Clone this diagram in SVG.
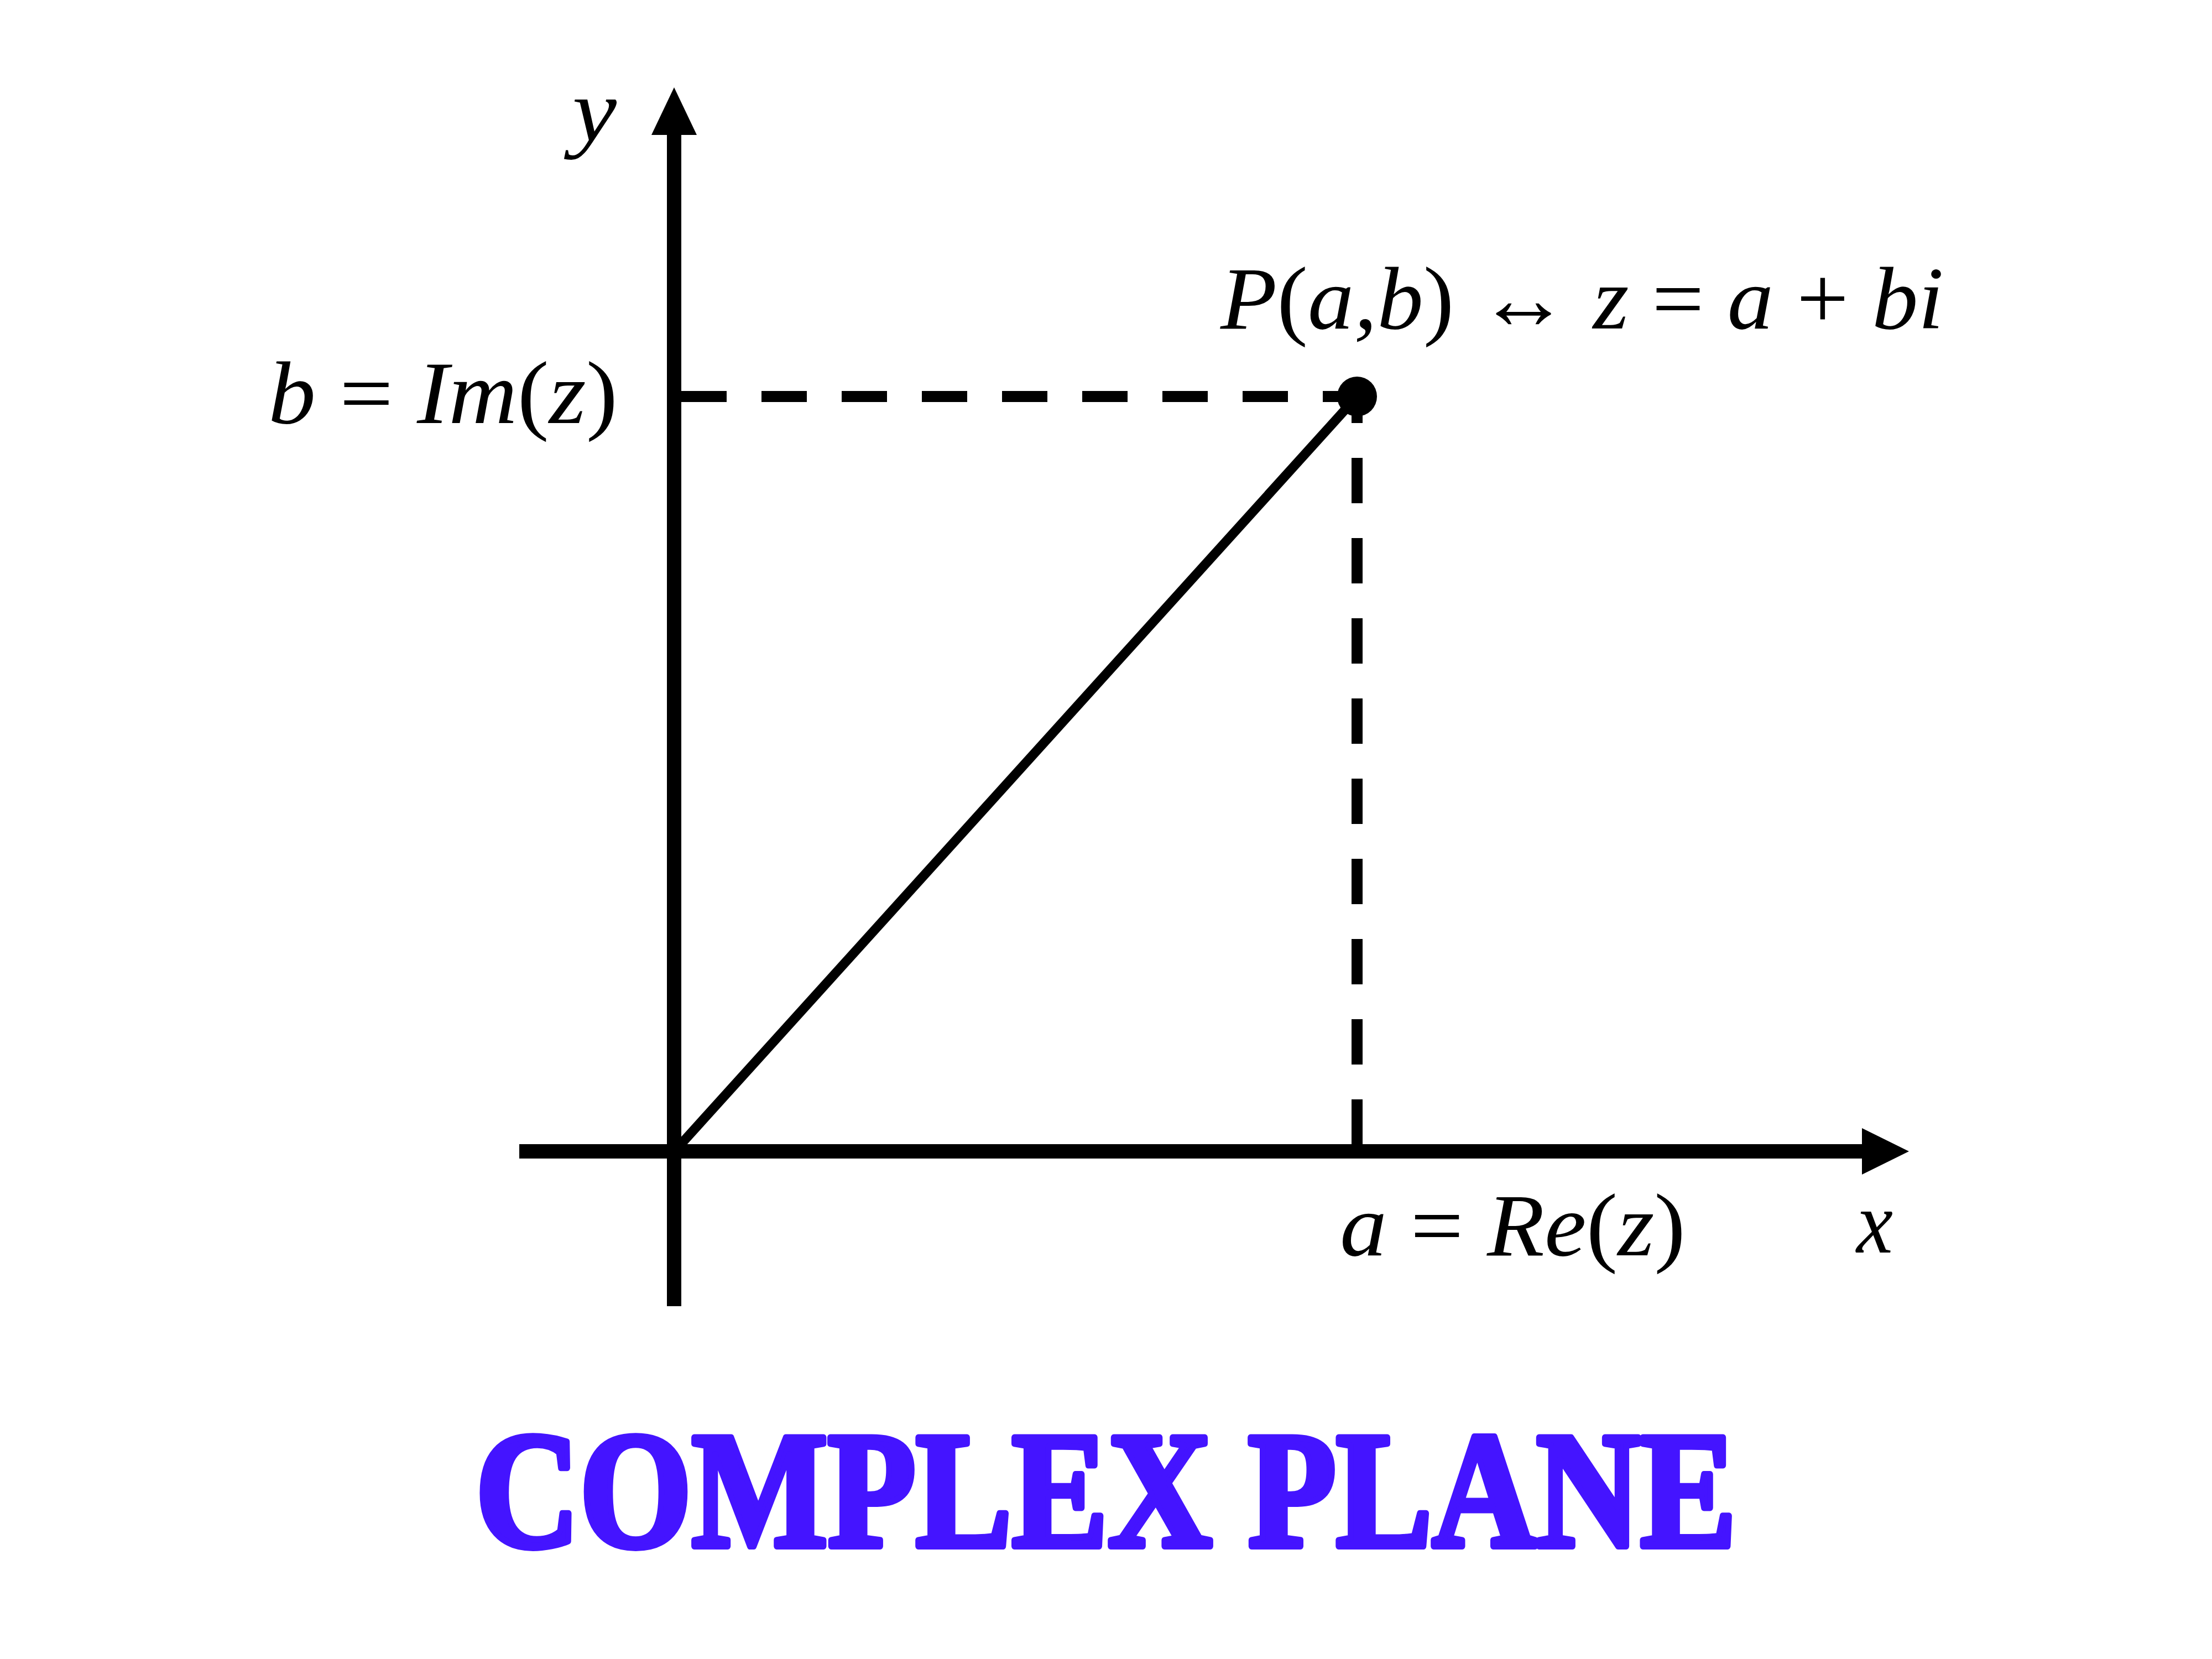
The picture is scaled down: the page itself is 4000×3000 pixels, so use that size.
<svg xmlns="http://www.w3.org/2000/svg" width="4000" height="3000" viewBox="0 0 4000 3000">
<style>
.m{font-family:"Liberation Serif","DejaVu Serif",serif;font-style:italic;font-size:160px;fill:#000}
.u{font-style:normal}
.title{font-family:"Liberation Serif","DejaVu Serif",serif;font-weight:bold;font-size:300px;fill:#4414FF;stroke:#4414FF;stroke-width:12;stroke-linejoin:round}
.axis{stroke:#000;stroke-width:26;fill:none}
.dash{stroke:#000;stroke-width:20;fill:none;stroke-dasharray:82 63}
</style>
<rect width="4000" height="3000" fill="#fff"/>
<g id="connectors">
<line class="axis" x1="1219" y1="2362" x2="1219" y2="236"/>
<polygon points="1219,158 1178,244 1260,244" fill="#000"/>
<line class="axis" x1="939" y1="2082" x2="3372" y2="2082"/>
<polygon points="3452,2082 3367,2040 3367,2124" fill="#000"/>
<line class="dash" x1="1232" y1="717" x2="2440" y2="717"/>
<line class="dash" x1="2454" y1="2070" x2="2454" y2="740"/>
<line x1="1225" y1="2076" x2="2454" y2="717" stroke="#000" stroke-width="17"/>
</g>
<g id="point-P">
<circle cx="2454" cy="717" r="36" fill="#000"/>
</g>
<g id="label-y"><text class="m" x="1035" y="255" textLength="80" lengthAdjust="spacingAndGlyphs">y</text></g>
<g id="label-b"><text class="m" x="485" y="765" textLength="632" lengthAdjust="spacingAndGlyphs">b <tspan class="u">=</tspan> Im<tspan class="u">(</tspan>z<tspan class="u">)</tspan></text></g>
<g id="label-P"><text class="m" x="2207" y="594" textLength="1308" lengthAdjust="spacingAndGlyphs">P<tspan class="u">(</tspan>a,b<tspan class="u">)</tspan> <tspan class="u">↔</tspan> z <tspan class="u">=</tspan> a <tspan class="u">+</tspan> bi</text></g>
<g id="label-a"><text class="m" x="2423" y="2270" textLength="625" lengthAdjust="spacingAndGlyphs">a <tspan class="u">=</tspan> Re<tspan class="u">(</tspan>z<tspan class="u">)</tspan></text></g>
<g id="label-x"><text class="m" x="3357" y="2265" textLength="66" lengthAdjust="spacingAndGlyphs">x</text></g>
<g id="title"><text class="title" x="860" y="2796" textLength="2280" lengthAdjust="spacingAndGlyphs">COMPLEX PLANE</text></g>
</svg>
